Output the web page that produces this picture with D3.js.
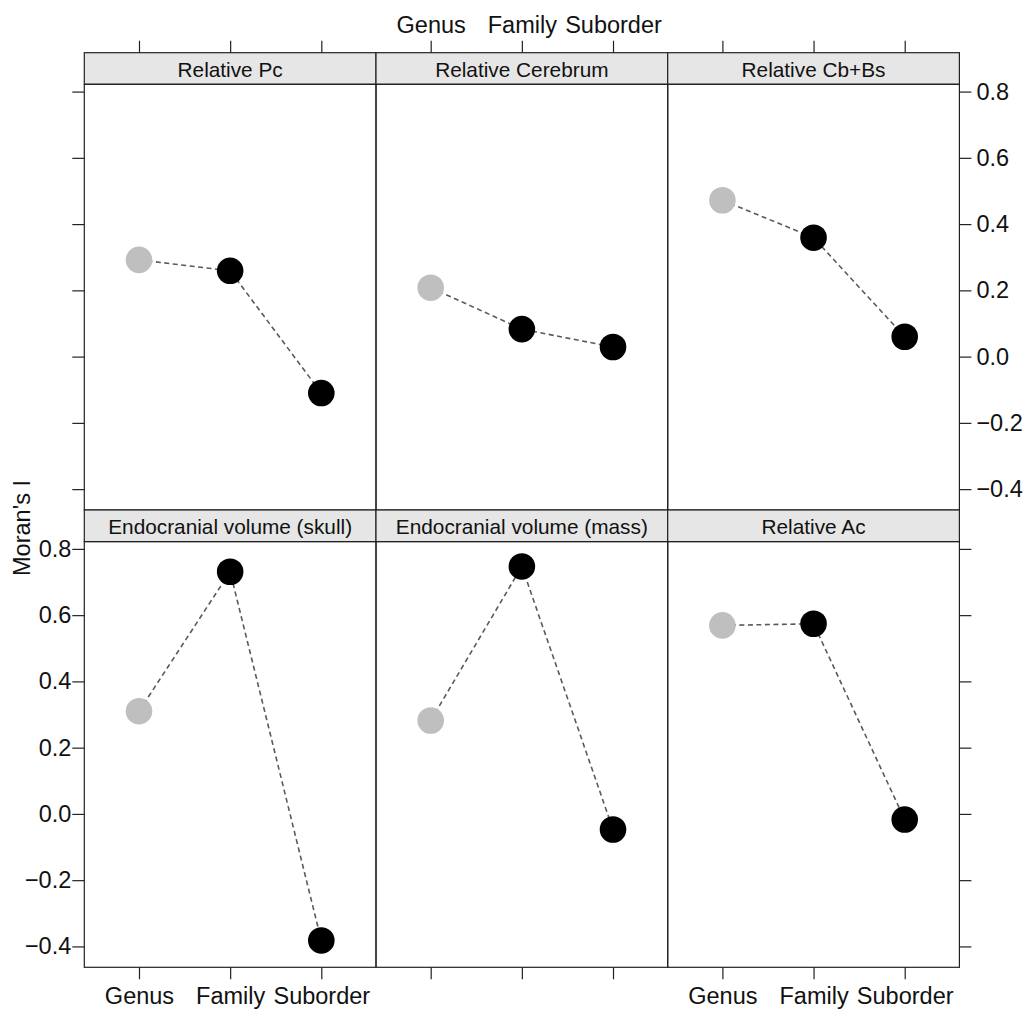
<!DOCTYPE html>
<html>
<head>
<meta charset="utf-8">
<script src="https://cdn.jsdelivr.net/npm/d3@7"></script>
<style>
  body { margin: 0; background: #fff; }
  text { font-family: "Liberation Sans", Arial, sans-serif; fill: #111; }
</style>
</head>
<body>
<svg width="1027" height="1011"></svg>
<script>
// data
const levels = ["Genus", "Family", "Suborder"];
const panelNames = ["Relative Pc", "Relative Cerebrum", "Relative Cb+Bs",
                    "Endocranial volume (skull)", "Endocranial volume (mass)", "Relative Ac"];
const relPc = [0.292, 0.259, -0.110];
const relCerebrum = [0.208, 0.083, 0.029];
const relCbBs = [0.472, 0.359, 0.060];
const endoSkull = [0.310, 0.731, -0.382];
const endoMass = [0.282, 0.747, -0.047];
const relAc = [0.569, 0.574, -0.017];
const yTicks = [-0.4, -0.2, 0.0, 0.2, 0.4, 0.6, 0.8];

const panelValues = [relPc, relCerebrum, relCbBs, endoSkull, endoMass, relAc];

// layout
const leftX = 84.3, colW = 291.7, topY = 52.7, stripH = 31.6, panelH = 425.7;
const tickLen = 12;

let svg = d3.select("svg");
let x = d3.scalePoint().domain(levels).range([0, colW]).padding(0.6);
let y = d3.scaleLinear().domain([-0.463, 0.822]).range([panelH, 0]);
let fmt = v => d3.format(".1f")(v).replace("-", "\u2212");

let panels = panelNames.map((name, i) => ({
  name: name,
  row: Math.floor(i / 3),
  col: i % 3,
  values: panelValues[i]
}));

let g = svg.selectAll("g.panel")
  .data(panels)
  .enter().append("g")
  .attr("class", "panel")
  .attr("transform", d => "translate(" + (leftX + d.col * colW) + "," + (topY + d.row * (stripH + panelH)) + ")");

// strip
g.append("rect")
  .attr("width", colW).attr("height", stripH)
  .attr("fill", "#e6e6e6").attr("stroke", "#222").attr("stroke-width", 1.2);
g.append("text")
  .attr("x", colW / 2).attr("y", stripH / 2 + 1)
  .attr("text-anchor", "middle").attr("dominant-baseline", "central")
  .style("font-size", "20.8px")
  .text(d => d.name);

// panel body
let body = g.append("g").attr("transform", "translate(0," + stripH + ")");
body.append("rect")
  .attr("width", colW).attr("height", panelH)
  .attr("fill", "none").attr("stroke", "#222").attr("stroke-width", 1.2);

let line = d3.line()
  .x((v, i) => x(levels[i]))
  .y(v => y(v));

body.append("path")
  .attr("d", d => line(d.values))
  .attr("fill", "none")
  .attr("stroke", "#5a5a5a")
  .attr("stroke-width", 1.6)
  .attr("stroke-dasharray", "5,3.5");

body.selectAll("circle")
  .data(d => d.values)
  .enter().append("circle")
  .attr("cx", (v, i) => x(levels[i]))
  .attr("cy", v => y(v))
  .attr("r", 13.3)
  .attr("fill", (v, i) => i === 0 ? "#bfbfbf" : "#000");

// axes: lattice style alternating
const axisFont = "23.5px";
panels.forEach(p => {
  let ox = leftX + p.col * colW;
  let oy = topY + p.row * (stripH + panelH);
  let by = oy + stripH;

  // top x ticks (row 0)
  if (p.row === 0) {
    let ax = svg.append("g")
      .attr("transform", "translate(" + ox + "," + oy + ")")
      .call(d3.axisTop(x).tickSize(tickLen).tickPadding(8)
        .tickFormat(p.col === 1 ? (d => d) : ""));
    ax.select(".domain").remove();
    ax.selectAll("text").style("font-size", axisFont).attr("fill", "#111");
  }
  // bottom x ticks (row 1)
  if (p.row === 1) {
    let ax = svg.append("g")
      .attr("transform", "translate(" + ox + "," + (by + panelH) + ")")
      .call(d3.axisBottom(x).tickSize(tickLen).tickPadding(8)
        .tickFormat(p.col !== 1 ? (d => d) : ""));
    ax.select(".domain").remove();
    ax.selectAll("text").style("font-size", axisFont).attr("fill", "#111");
  }
  // left y ticks (col 0)
  if (p.col === 0) {
    let ax = svg.append("g")
      .attr("transform", "translate(" + ox + "," + by + ")")
      .call(d3.axisLeft(y).tickValues(yTicks).tickSize(tickLen).tickPadding(1)
        .tickFormat(p.row === 1 ? fmt : ""));
    ax.select(".domain").remove();
    ax.selectAll("text").style("font-size", axisFont).attr("fill", "#111");
  }
  // right y ticks (col 2)
  if (p.col === 2) {
    let ax = svg.append("g")
      .attr("transform", "translate(" + (ox + colW) + "," + by + ")")
      .call(d3.axisRight(y).tickValues(yTicks).tickSize(tickLen).tickPadding(5)
        .tickFormat(p.row === 0 ? fmt : ""));
    ax.select(".domain").remove();
    ax.selectAll("text").style("font-size", axisFont).attr("fill", "#111");
  }
});

svg.selectAll(".tick line").attr("stroke", "#222").attr("stroke-width", 1.2);

// y axis title
svg.append("text")
  .attr("transform", "translate(30,528) rotate(-90)")
  .attr("text-anchor", "middle")
  .style("font-size", "23.5px")
  .text("Moran's I");
</script>
</body>
</html>
